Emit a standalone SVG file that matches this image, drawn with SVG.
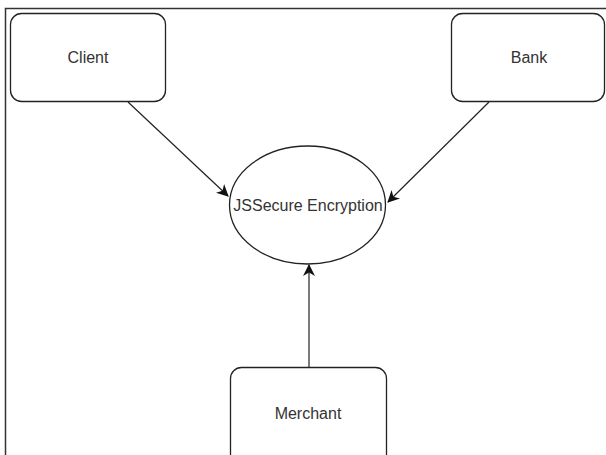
<svg xmlns="http://www.w3.org/2000/svg" width="606" height="455" viewBox="0 0 606 455">
<defs>
<style>
.box{fill:#fff;stroke:#222;stroke-width:1.3}
.lbl{font-family:"Liberation Sans",Arial,sans-serif;font-size:16px;fill:#333;text-anchor:middle;dominant-baseline:central}
.edge{stroke:#222;stroke-width:1.2;fill:none}
</style>
<marker id="ah" markerWidth="12" markerHeight="12" refX="11" refY="6" orient="auto" markerUnits="userSpaceOnUse">
<path d="M0,0 L12,6 L0,12 L3.5,6 Z" fill="#111"/>
</marker>
</defs>
<rect width="606" height="455" fill="#fff"/>
<path d="M5.5,455 L5.5,8.5 L606,8.5" fill="none" stroke="#333" stroke-width="1.5"/>
<g id="client"><rect class="box" x="10.5" y="13.5" width="155" height="88" rx="11"/><text class="lbl" x="88" y="57">Client</text></g>
<g id="bank"><rect class="box" x="451.5" y="13.5" width="153" height="88" rx="11"/><text class="lbl" x="529" y="57">Bank</text></g>
<g id="jssecure"><ellipse class="box" cx="307.5" cy="205" rx="78" ry="59"/><text class="lbl" x="308" y="205">JSSecure Encryption</text></g>
<g id="merchant"><rect class="box" x="230.5" y="367.5" width="156" height="100" rx="11"/><text class="lbl" x="308" y="413">Merchant</text></g>
<g id="connectors">
<line class="edge" x1="128" y1="102" x2="228" y2="196" marker-end="url(#ah)"/>
<line class="edge" x1="489" y1="102" x2="388" y2="202" marker-end="url(#ah)"/>
<line class="edge" x1="309" y1="367" x2="309" y2="265" marker-end="url(#ah)"/>
</g>
</svg>
